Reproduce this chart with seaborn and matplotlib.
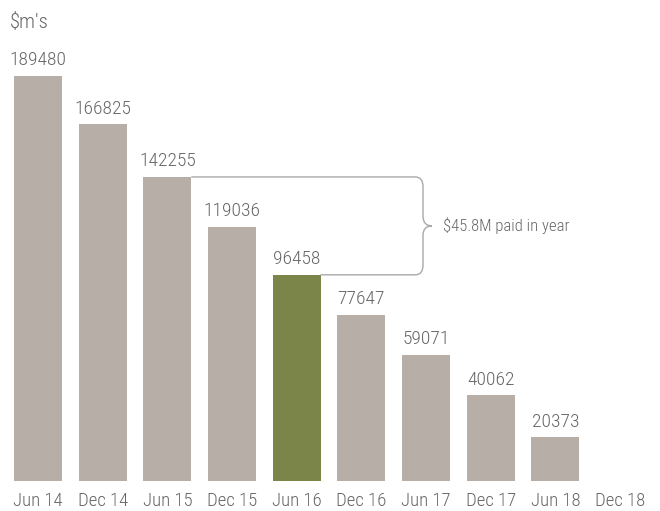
import matplotlib
matplotlib.use("Agg")
import matplotlib.pyplot as plt
from matplotlib import font_manager
import seaborn as sns
import pandas as pd
from matplotlib.path import Path
from matplotlib.patches import PathPatch

periods = ["Jun 14", "Dec 14", "Jun 15", "Dec 15", "Jun 16", "Dec 16",
           "Jun 17", "Dec 17", "Jun 18", "Dec 18"]
values = [189480, 166825, 142255, 119036, 96458, 77647, 59071, 40062, 20373, 0]
highlight = "Jun 16"
bracket_from, bracket_to = "Jun 15", "Jun 16"
bracket_text = "$45.8M paid in year"
unit_label = "$m's"

gray = "#b7aea8"
green = "#7b8449"
text_color = "#666666"

sns.set_theme(style="white")

names = sorted({(f.name, f.stretch, str(f.weight)) for f in font_manager.fontManager.ttflist})
avail = {n for n, _, _ in names}
fam = None
for cand in ["Liberation Sans Narrow", "Roboto Condensed", "DejaVu Sans Condensed",
             "Open Sans Condensed", "Noto Sans Condensed"]:
    if cand in avail:
        fam = cand
        break
stretch = "normal"
weight = "light"
if fam is None:
    cond = [n for n, s, w in names if n in ("Noto Sans", "DejaVu Sans", "Open Sans", "Roboto")
            and s in ("condensed", "semi-condensed", "extra-condensed", 75, 87.5, 62.5)]
    if cond:
        fam = cond[0]
        stretch = "condensed"
    else:
        fam = "Roboto"
plt.rcParams['font.family'] = [fam, 'DejaVu Sans']
plt.rcParams['font.stretch'] = stretch
plt.rcParams['font.weight'] = weight

df = pd.DataFrame({"period": periods, "value": values})
df["kind"] = ["hl" if p == highlight else "base" for p in periods]

fig = plt.figure(figsize=(6.6, 5.11), dpi=100)
W, H = 660, 511
spacing = (620 - 38) / 9
left_px = 38 - 0.5 * spacing
right_px = 620 + 0.5 * spacing
base_px = 481
top_px = 20
ax = fig.add_axes([left_px / W, (H - base_px) / H, (right_px - left_px) / W, (base_px - top_px) / H])

sns.barplot(data=df, x="period", y="value", hue="kind",
            palette={"base": gray, "hl": green}, width=0.74,
            legend=False, ax=ax, saturation=1, edgecolor="none")

px_per_unit = (481 - 76) / 189480
ax.set_ylim(0, (base_px - top_px) / px_per_unit)
ax.set_xlim(-0.5, len(periods) - 0.5)

fs = 14
for i, v in enumerate(values):
    if v > 0:
        ax.text(i, v + 3200, f"{v}", ha="center", va="bottom",
                fontsize=fs, color=text_color)

for s in ax.spines.values():
    s.set_visible(False)
ax.set_yticks([])
ax.set_xlabel("")
ax.set_ylabel("")
ax.tick_params(axis="x", length=0, pad=8, labelsize=13.5, labelcolor=text_color)

fig.text(10 / W, 1 - 22 / H, unit_label, fontsize=15, color=text_color,
         ha="left", va="center")

# bracket
i1 = periods.index(bracket_from)
i2 = periods.index(bracket_to)
y1 = values[i1]
y2 = values[i2]
ym = (y1 + y2) / 2
x_start1 = i1 + 0.37
x_start2 = i2 + 0.37
xv = (423 - 38) / spacing
xt = (432 - 38) / spacing
dx = 0.12
dy = 4500
verts = [
    (x_start1, y1), (xv - dx, y1),
    (xv, y1), (xv, y1 - dy),
    (xv, ym + dy),
    (xv, ym), (xt, ym),
    (xv, ym), (xv, ym - dy),
    (xv, y2 + dy),
    (xv, y2), (xv - dx, y2),
    (x_start2, y2),
]
codes = [Path.MOVETO, Path.LINETO,
         Path.CURVE3, Path.CURVE3,
         Path.LINETO,
         Path.CURVE3, Path.CURVE3,
         Path.CURVE3, Path.CURVE3,
         Path.LINETO,
         Path.CURVE3, Path.CURVE3,
         Path.LINETO]
ax.add_patch(PathPatch(Path(verts, codes), facecolor="none",
                       edgecolor="#a8a8a8", lw=1.0, clip_on=False))
ax.text((443 - 38) / spacing, ym, bracket_text, ha="left", va="center",
        fontsize=12, color=text_color)

fig.savefig("out.png", dpi=100, facecolor="white")
